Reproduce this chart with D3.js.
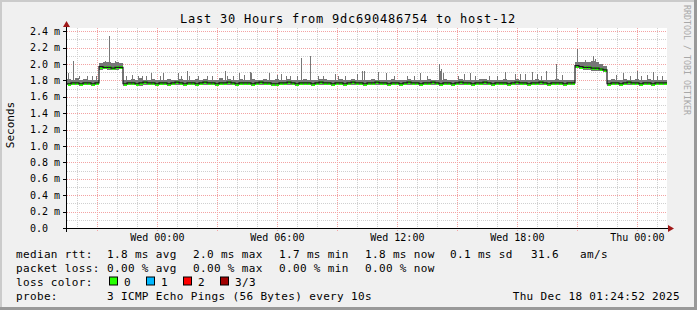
<!DOCTYPE html>
<html><head><meta charset="utf-8">
<script src="https://cdn.jsdelivr.net/npm/d3@7"></script>
<style>
body{margin:0;background:#fff}
svg{display:block}
text{font-family:"DejaVu Sans Mono",monospace;fill:#000}
</style></head><body>
<svg id="c" width="697" height="310"></svg>
<script>
// ---------- data ----------
const title = "Last 30 Hours from 9dc690486754 to host-12";
const startTime = new Date(2025, 11, 16, 19, 29, 0);
const spanHours = 30;
const stepHours = 0.2;           // one sample every 12 minutes
const yMaxMs = 2.44;

const median = [
1.76,1.77,1.77,1.76,1.77,1.77,1.76,1.77,
1.97,1.96,1.96,1.95,1.96,1.96,
1.76,1.77,1.77,1.76,1.77,1.78,1.77,1.77,1.76,1.77,
1.77,1.76,1.77,1.78,1.77,1.76,1.77,1.77,1.76,1.77,
1.78,1.77,1.77,1.76,1.77,1.77,1.78,1.77,1.76,1.77,
1.77,1.77,1.76,1.77,1.78,1.77,1.77,1.76,1.76,1.77,
1.77,1.78,1.77,1.76,1.77,1.77,1.77,1.76,1.77,1.78,
1.77,1.77,1.76,1.77,1.77,1.76,1.77,1.78,1.77,1.77,
1.76,1.77,1.77,1.78,1.77,1.77,1.76,1.77,1.77,1.76,
1.77,1.78,1.77,1.77,1.76,1.77,1.77,1.78,1.77,1.76,
1.77,1.77,1.76,1.77,1.78,1.77,1.77,1.76,1.77,1.77,
1.78,1.77,1.76,1.77,1.77,1.77,1.76,1.77,1.78,1.77,
1.77,1.76,1.77,1.77,1.78,1.77,1.76,1.77,1.77,1.77,
1.76,1.77,1.77,
1.98,1.97,1.96,1.96,1.95,1.95,1.94,1.93,
1.76,1.77,1.77,1.76,1.77,1.78,1.77,1.77,1.76,1.77,1.77,1.76,1.77,1.77,1.77];

const smokeLo = [
1.74,1.74,1.75,1.73,1.74,1.74,1.73,1.74,
1.93,1.94,1.93,1.93,1.93,1.94,
1.73,1.74,1.74,1.74,1.73,1.75,1.74,1.74,1.73,1.74,
1.74,1.73,1.74,1.75,1.74,1.73,1.74,1.74,1.73,1.74,
1.75,1.74,1.74,1.73,1.74,1.74,1.75,1.74,1.73,1.74,
1.74,1.74,1.73,1.74,1.75,1.74,1.74,1.73,1.73,1.74,
1.74,1.75,1.74,1.73,1.74,1.74,1.74,1.73,1.74,1.75,
1.74,1.74,1.73,1.74,1.74,1.73,1.74,1.75,1.74,1.74,
1.73,1.74,1.74,1.75,1.74,1.74,1.73,1.74,1.74,1.73,
1.74,1.75,1.74,1.74,1.73,1.74,1.74,1.75,1.74,1.73,
1.74,1.74,1.73,1.74,1.75,1.74,1.74,1.73,1.74,1.74,
1.75,1.74,1.73,1.74,1.74,1.74,1.73,1.74,1.75,1.74,
1.74,1.73,1.74,1.74,1.75,1.74,1.73,1.74,1.74,1.74,
1.73,1.74,1.74,
1.95,1.94,1.93,1.93,1.92,1.92,1.91,1.90,
1.73,1.74,1.74,1.73,1.74,1.75,1.74,1.74,1.73,1.74,1.74,1.73,1.74,1.74,1.74];

const smokeHi = [
1.82,1.81,1.83,1.80,1.82,1.81,1.80,1.81,
2.01,2.02,2.02,2.01,2.02,2.01,
1.81,1.80,1.82,1.81,1.83,1.81,1.80,1.82,1.81,1.80,
1.81,1.82,1.80,1.81,1.82,1.81,1.80,1.81,1.82,1.81,
1.82,1.81,1.80,1.81,1.83,1.81,1.82,1.80,1.81,1.82,
1.81,1.80,1.82,1.81,1.81,1.82,1.80,1.81,1.82,1.81,
1.81,1.82,1.81,1.80,1.81,1.82,1.81,1.80,1.81,1.82,
1.82,1.81,1.80,1.81,1.82,1.81,1.81,1.82,1.80,1.81,
1.80,1.81,1.82,1.81,1.81,1.80,1.81,1.82,1.81,1.81,
1.81,1.82,1.81,1.80,1.81,1.81,1.82,1.81,1.80,1.81,
1.82,1.81,1.80,1.81,1.82,1.81,1.81,1.80,1.81,1.82,
1.82,1.81,1.80,1.81,1.81,1.82,1.81,1.80,1.82,1.81,
1.81,1.80,1.81,1.82,1.81,1.81,1.80,1.81,1.82,1.81,
1.80,1.81,1.81,
2.03,2.02,2.02,2.03,2.04,2.02,2.00,1.98,
1.81,1.82,1.80,1.81,1.82,1.81,1.81,1.82,1.80,1.81,1.82,1.81,1.81,1.80,1.81];

const spikeHour = [0.07,0.28,0.6,1.0,1.25,1.45,1.9,2.12,2.4,2.95,3.25,3.55,3.75,3.95,4.2,4.65,4.8,5.55,5.7,6.0,6.1,6.55,7.0,7.25,7.9,8.0,8.3,8.6,8.85,9.15,9.2,
10.1,10.5,10.7,10.95,11.15,11.5,11.7,12.15,12.55,12.8,13.4,13.55,13.9,14.5,14.75,14.85,15.55,15.95,16.35,17.0,17.35,17.65,18.0,18.6,18.65,18.7,18.8,
19.55,19.85,20.15,20.4,21.1,21.5,21.9,22.4,22.65,22.9,23.25,23.5,23.7,23.95,24.45,24.75,25.48,25.9,26.3,26.4,27.45,27.8,28.15,28.5,28.7,29.0,29.3,29.5,29.75];
const spikeMs = [1.89,2.04,1.86,1.85,1.86,1.85,2.04,2.34,2.04,1.85,1.87,1.85,1.85,1.85,1.89,1.85,1.89,1.89,1.86,1.91,1.86,1.86,1.86,1.85,1.91,1.86,1.86,1.89,1.87,1.90,1.89,
1.89,1.87,1.88,1.86,1.86,1.86,2.08,2.10,1.86,1.85,1.88,1.85,1.85,1.88,1.91,1.91,1.90,1.89,1.86,1.86,1.86,1.89,1.86,2.00,1.92,1.94,1.89,
1.85,1.88,1.89,1.85,1.86,1.85,1.90,1.88,1.88,1.88,1.90,1.88,1.85,1.91,2.00,1.87,2.18,2.05,2.10,2.06,1.87,1.89,1.85,1.91,1.85,1.87,1.90,1.86,1.85];

const yTicks = [0,0.2,0.4,0.6,0.8,1.0,1.2,1.4,1.6,1.8,2.0,2.2,2.4];
const yMinor = [0.1,0.3,0.5,0.7,0.9,1.1,1.3,1.5,1.7,1.9,2.1,2.3];
const yLabel = "Seconds";
const rttHead = "median rtt:";
const rttItems = ["1.8 ms avg","2.0 ms max","1.7 ms min","1.8 ms now","0.1 ms sd","31.6","am/s"];
const lossHead = "packet loss:";
const lossItems = ["0.00 % avg","0.00 % max","0.00 % min","0.00 % now"];
const colorHead = "loss color:";
const lossNames = ["0","1","2","3/3"];
const lossColors = ["#26ff00","#00b8ff","#ff0000","#a00000"];
const probeHead = "probe:";
const probeText = "3 ICMP Echo Pings (56 Bytes) every 10s";
const stampText = "Thu Dec 18 01:24:52 2025";
const credit = "RRDTOOL / TOBI OETIKER";

// ---------- drawing ----------
const W = 697, H = 310;
const svg = d3.select("#c");
const L = 67, R = 667, T = 28, B = 228;
const endTime = d3.timeHour.offset(startTime, spanHours);
const x = d3.scaleTime().domain([startTime, endTime]).range([L, R]);
const y = d3.scaleLinear().domain([0, yMaxMs]).range([B, T]);
const tAt = h => new Date(+startTime + h * 3600e3);

// frame
svg.append("rect").attr("width", W).attr("height", H).attr("fill", "#f0f0f0");
svg.append("rect").attr("x",0).attr("y",0).attr("width",W).attr("height",2).attr("fill","#cbcbcb");
svg.append("rect").attr("x",0).attr("y",0).attr("width",2).attr("height",H).attr("fill","#cbcbcb");
svg.append("rect").attr("x",W-3).attr("y",0).attr("width",3).attr("height",H).attr("fill","#999");
svg.append("rect").attr("x",0).attr("y",H-3).attr("width",W).attr("height",3).attr("fill","#999");

// canvas
svg.append("rect").attr("x", L).attr("y", T).attr("width", R - L).attr("height", B - T).attr("fill", "#fff");

const grid = svg.append("g").attr("shape-rendering", "crispEdges");
// vertical grid
const hours = d3.timeHour.range(startTime, endTime);
hours.forEach(d => {
  const major = d.getHours() % 3 === 0;
  const xx = Math.round(x(d)) + 0.5;
  grid.append("line").attr("x1", xx).attr("x2", xx).attr("y1", T).attr("y2", B + (major ? 3 : 0))
    .attr("stroke", major ? "#f3a3a3" : "#d0d0d0").attr("stroke-dasharray", "1,1");
});
// horizontal grid
yMinor.forEach(v => {
  const yy = Math.round(y(v)) + 0.5;
  grid.append("line").attr("x1", L).attr("x2", R).attr("y1", yy).attr("y2", yy)
    .attr("stroke", "#d0d0d0").attr("stroke-dasharray", "1,1");
});
yTicks.slice(1).forEach(v => {
  const yy = Math.round(y(v)) + 0.5;
  grid.append("line").attr("x1", L).attr("x2", R).attr("y1", yy).attr("y2", yy)
    .attr("stroke", "#f3a3a3").attr("stroke-dasharray", "1,1");
});

// smoke
const idx = d3.range(median.length);
const plot = svg.append("g").attr("shape-rendering", "crispEdges");
plot.selectAll("rect.smoke").data(idx).join("rect").attr("class", "smoke")
  .attr("x", i => x(tAt(i * stepHours)))
  .attr("width", i => x(tAt((i + 1) * stepHours)) - x(tAt(i * stepHours)))
  .attr("y", i => y(smokeHi[i]))
  .attr("height", i => y(smokeLo[i]) - y(smokeHi[i]))
  .attr("fill", "#777");
plot.selectAll("rect.spike").data(spikeHour.map((h, k) => ({ h, v: spikeMs[k] }))).join("rect").attr("class", "spike")
  .attr("x", d => Math.round(x(tAt(d.h))))
  .attr("width", 1)
  .attr("y", d => y(d.v))
  .attr("height", d => y(smokeHi[Math.min(median.length - 1, Math.floor(d.h / stepHours))]) - y(d.v) + 1)
  .attr("fill", "#777");

// median line: dark step line then loss-coloured segments
const pts = idx.map(i => [tAt(i * stepHours), median[i]]).concat([[endTime, median[median.length - 1]]]);
svg.append("path").attr("d", d3.line().x(d => x(d[0])).y(d => y(d[1])).curve(d3.curveStepAfter)(pts))
  .attr("fill", "none").attr("stroke", "#1a1a1a").attr("stroke-width", 1.2);
plot.selectAll("rect.med").data(idx).join("rect").attr("class", "med")
  .attr("x", i => x(tAt(i * stepHours)) + 0.5)
  .attr("width", i => x(tAt((i + 1) * stepHours)) - x(tAt(i * stepHours)) - 0.5)
  .attr("y", i => Math.round(y(median[i])) - 1)
  .attr("height", 3)
  .attr("fill", lossColors[0]);

// axes
const ax = svg.append("g").attr("shape-rendering", "crispEdges");
ax.append("line").attr("x1", L - 4).attr("x2", R + 2).attr("y1", B + 0.5).attr("y2", B + 0.5).attr("stroke", "#000");
ax.append("line").attr("x1", L - 0.5).attr("x2", L - 0.5).attr("y1", T - 5).attr("y2", B + 4).attr("stroke", "#000");
yTicks.forEach(v => {
  const yy = Math.round(y(v)) + 0.5;
  ax.append("line").attr("x1", L - 4).attr("x2", L).attr("y1", yy).attr("y2", yy).attr("stroke", "#000");
});
svg.append("path").attr("d", `M${L - 4},${T - 1}L${L + 3},${T - 1}L${L - 0.5},${T - 7}Z`).attr("fill", "#a01818");
svg.append("path").attr("d", `M${R + 1},${B - 3}L${R + 1},${B + 4}L${R + 7},${B + 0.5}Z`).attr("fill", "#a01818");

// y labels
svg.selectAll("text.yl").data(yTicks).join("text").attr("class", "yl")
  .attr("x", 30).attr("y", d => y(d) + 3.5)
  .attr("font-size", 10)
  .text(d => d === 0 ? d3.format(".1f")(d) : d3.format(".1f")(d) + " m");

// x labels
const xLab = d3.timeHour.every(6).range(startTime, endTime);
svg.selectAll("text.xl").data(xLab).join("text").attr("class", "xl")
  .attr("x", d => x(d)).attr("y", 241).attr("text-anchor", "middle")
  .attr("font-size", 10)
  .text(d3.timeFormat("%a %H:%M"));

// title
svg.append("text").attr("x", 348).attr("y", 23).attr("text-anchor", "middle")
  .attr("font-size", 12).attr("letter-spacing", 0.78).text(title);

// y axis title
svg.append("text").attr("transform", "translate(14,125) rotate(-90)").attr("text-anchor", "middle")
  .attr("font-size", 11).text(yLabel);

// credit
svg.append("text").attr("transform", "translate(684,5) rotate(90)").attr("font-size", 8.3)
  .attr("fill", "#a8a8a8").style("fill", "#a8a8a8").text(credit);

// legend
const lg = svg.append("g").attr("font-size", 11).attr("letter-spacing", 0.35);
const rowY = [258, 272, 285.5, 299.5];
const colX = [107, 193, 279, 365, 450, 531, 580];
lg.append("text").attr("x", 16).attr("y", rowY[0]).text(rttHead);
rttItems.forEach((s, k) => lg.append("text").attr("x", colX[k]).attr("y", rowY[0]).text(s));
lg.append("text").attr("x", 16).attr("y", rowY[1]).text(lossHead);
lossItems.forEach((s, k) => lg.append("text").attr("x", colX[k]).attr("y", rowY[1]).text(s));
lg.append("text").attr("x", 16).attr("y", rowY[2]).text(colorHead);
lossNames.forEach((s, k) => {
  const bx = 109 + k * 37;
  lg.append("rect").attr("x", bx + 0.5).attr("y", rowY[2] - 8.5).attr("width", 8).attr("height", 8)
    .attr("fill", lossColors[k]).attr("stroke", "#000");
  lg.append("text").attr("x", bx + 15).attr("y", rowY[2]).text(s);
});
lg.append("text").attr("x", 16).attr("y", rowY[3]).text(probeHead);
lg.append("text").attr("x", 107).attr("y", rowY[3]).text(probeText);
lg.append("text").attr("x", 680).attr("y", rowY[3]).attr("text-anchor", "end").text(stampText);
</script>
</body></html>
